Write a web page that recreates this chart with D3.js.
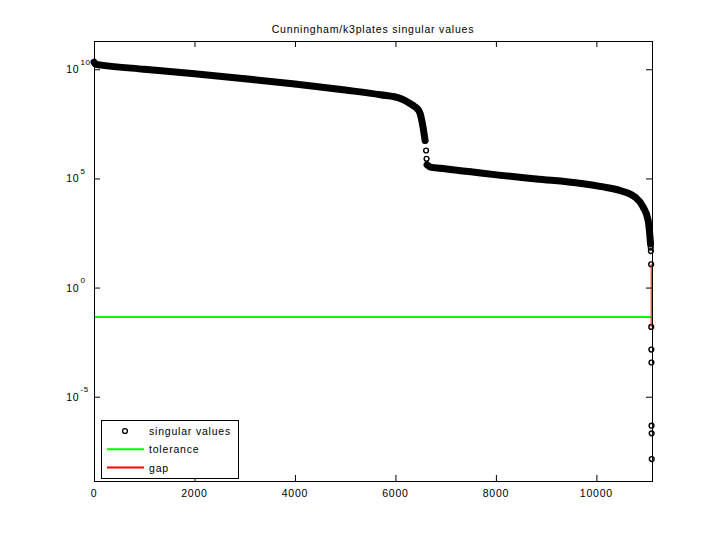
<!DOCTYPE html>
<html>
<head>
<meta charset="utf-8">
<script src="https://cdn.jsdelivr.net/npm/d3@7"></script>
<style>
  body { margin: 0; background: #fff; }
  svg text { font-family: "Liberation Sans", Arial, sans-serif; fill: #000; }
</style>
</head>
<body>
<svg id="chart" width="720" height="540"></svg>
<script>
const title = 'Cunningham/k3plates singular values';
const n = 11107;

// dense run before the first drop (markers overlap into a band)
const upperIdx = [1, 30, 150, 1000, 2000, 3000, 4000, 5000, 5700, 6100, 6350, 6430, 6490, 6550, 6590];
const upperSv = [2.1e10, 1.7e10, 1.55e10, 1.0e10, 6.2e9, 3.7e9, 2.1e9, 1.12e9, 6.8e8, 4.6e8, 2.2e8, 1.6e8, 9.5e7, 2.2e7, 5.5e6];

// isolated values inside the first drop
const dropIdx = [6610, 6620];
const dropSv = [1.9e6, 7.9e5];

// dense run after the first drop
const lowerIdx = [6630, 6700, 6900, 7500, 8100, 8800, 9700, 10100, 10470, 10770, 10930, 11030, 11067, 11078];
const lowerSv = [4.2e5, 3.3e5, 2.9e5, 2.0e5, 1.38e5, 9.5e4, 5.9e4, 4.2e4, 2.8e4, 1.4e4, 4.9e3, 1.2e3, 2.1e2, 1.0e2];

// isolated smallest values
const tailIdx = [11082, 11085, 11090, 11092, 11094, 11096, 11098, 11100, 11102];
const tailSv = [68, 47, 11.7, 0.0158, 1.45e-3, 3.7e-4, 4.7e-7, 2.1e-7, 1.4e-8];

const tolerance = 0.045;
const gapIdx = 11091;
const gapTop = 11.7;
const gapBottom = 0.0158;

const xTicks = [0, 2000, 4000, 6000, 8000, 10000];
const yTickExp = [-5, 0, 5, 10];

const legendItems = ['singular values', 'tolerance', 'gap'];

const svg = d3.select('#chart');
const margin = { left: 94, right: 68, top: 41, bottom: 59 };
const width = 720 - margin.left - margin.right;
const height = 540 - margin.top - margin.bottom;

const x = d3.scaleLinear().domain([0, n]).range([0, width]);
const y = d3.scaleLog().domain([1.38e-9, 1.97e11]).range([height, 0]);

const g = svg.append('g').attr('transform', `translate(${margin.left},${margin.top})`);

const zip = (a, b) => a.map((v, i) => [v, b[i]]);
const line = d3.line().x(d => x(d[0])).y(d => y(d[1])).curve(d3.curveMonotoneX);

// tolerance and gap
g.append('line')
  .attr('x1', x(1)).attr('x2', x(gapIdx))
  .attr('y1', y(tolerance)).attr('y2', y(tolerance))
  .attr('stroke', '#00ff00').attr('stroke-width', 2);

// markers
const marks = [zip(upperIdx, upperSv), zip(dropIdx, dropSv), zip(lowerIdx, lowerSv), zip(tailIdx, tailSv)].flat();
g.selectAll('circle.sv')
  .data(marks)
  .join('circle')
  .attr('class', 'sv')
  .attr('cx', d => x(d[0]))
  .attr('cy', d => y(d[1]))
  .attr('r', 2.4)
  .attr('fill', 'none')
  .attr('stroke', '#000')
  .attr('stroke-width', 1.4);

// overlapping markers form a solid band
g.selectAll('path.band')
  .data([zip(upperIdx, upperSv), zip(lowerIdx, lowerSv)])
  .join('path')
  .attr('class', 'band')
  .attr('d', line)
  .attr('fill', 'none')
  .attr('stroke', '#000')
  .attr('stroke-width', 7)
  .attr('stroke-linecap', 'round')
  .attr('stroke-linejoin', 'round');

g.append('line')
  .attr('x1', x(gapIdx)).attr('x2', x(gapIdx))
  .attr('y1', y(gapTop)).attr('y2', y(gapBottom))
  .attr('stroke', '#ff0000').attr('stroke-width', 1);

// axes (ticks pointing inward on all four sides)
const noLabel = () => '';
const tickY = yTickExp.map(e => Math.pow(10, e));
const axisStyle = sel => {
  sel.select('.domain').remove();
  sel.selectAll('line').attr('stroke', '#000').attr('stroke-width', 1);
};
g.append('g').attr('transform', `translate(0,${height})`)
  .call(d3.axisBottom(x).tickValues(xTicks).tickSizeInner(-6).tickSizeOuter(0).tickFormat(noLabel)).call(axisStyle);
g.append('g')
  .call(d3.axisTop(x).tickValues(xTicks).tickSizeInner(-6).tickSizeOuter(0).tickFormat(noLabel)).call(axisStyle);
g.append('g')
  .call(d3.axisLeft(y).tickValues(tickY).tickSizeInner(-6).tickSizeOuter(0).tickFormat(noLabel)).call(axisStyle);
g.append('g').attr('transform', `translate(${width},0)`)
  .call(d3.axisRight(y).tickValues(tickY).tickSizeInner(-6).tickSizeOuter(0).tickFormat(noLabel)).call(axisStyle);

g.append('rect')
  .attr('x', 0.5).attr('y', 0.5)
  .attr('width', width).attr('height', height)
  .attr('fill', 'none').attr('stroke', '#000').attr('stroke-width', 1);

// tick labels
g.selectAll('text.xl')
  .data(xTicks)
  .join('text')
  .attr('class', 'xl')
  .attr('x', d => x(d))
  .attr('y', height + 16)
  .attr('text-anchor', 'middle')
  .style('font-size', '10.5px')
  .style('letter-spacing', '0.8px')
  .text(d => d);

const yl = g.selectAll('g.yl')
  .data(yTickExp)
  .join('g')
  .attr('class', 'yl')
  .attr('transform', d => `translate(0,${y(Math.pow(10, d))})`);
yl.append('text')
  .attr('x', -14.5).attr('y', 4)
  .attr('text-anchor', 'end')
  .style('font-size', '10.5px')
  .style('letter-spacing', '0.8px')
  .text('10');
yl.append('text')
  .attr('x', -13.5).attr('y', -4.5)
  .style('font-size', '8px')
  .style('letter-spacing', '0.5px')
  .text(d => d);

// title
svg.append('text')
  .attr('x', margin.left + width / 2)
  .attr('y', 33)
  .attr('text-anchor', 'middle')
  .style('font-size', '10.5px')
  .style('letter-spacing', '0.8px')
  .text(title);

// legend
const legend = svg.append('g').attr('transform', 'translate(101,420)');
legend.append('rect')
  .attr('x', 0.5).attr('y', 0.5)
  .attr('width', 137).attr('height', 58)
  .attr('fill', '#fff').attr('stroke', '#000').attr('stroke-width', 1);
const rows = legend.selectAll('g.row')
  .data(legendItems)
  .join('g')
  .attr('class', 'row')
  .attr('transform', (d, i) => `translate(0,${11 + i * 18.3})`);
rows.filter((d, i) => i === 0).append('circle')
  .attr('cx', 24).attr('cy', 0).attr('r', 2.4)
  .attr('fill', 'none').attr('stroke', '#000').attr('stroke-width', 1.4);
rows.filter((d, i) => i > 0).append('line')
  .attr('x1', 6).attr('x2', 43).attr('y1', 0).attr('y2', 0)
  .attr('stroke', (d, i) => i === 0 ? '#00ff00' : '#ff0000')
  .attr('stroke-width', 2);
rows.append('text')
  .attr('x', 48).attr('y', 4)
  .style('font-size', '10.5px')
  .style('letter-spacing', '0.8px')
  .text(d => d);
</script>
</body>
</html>
